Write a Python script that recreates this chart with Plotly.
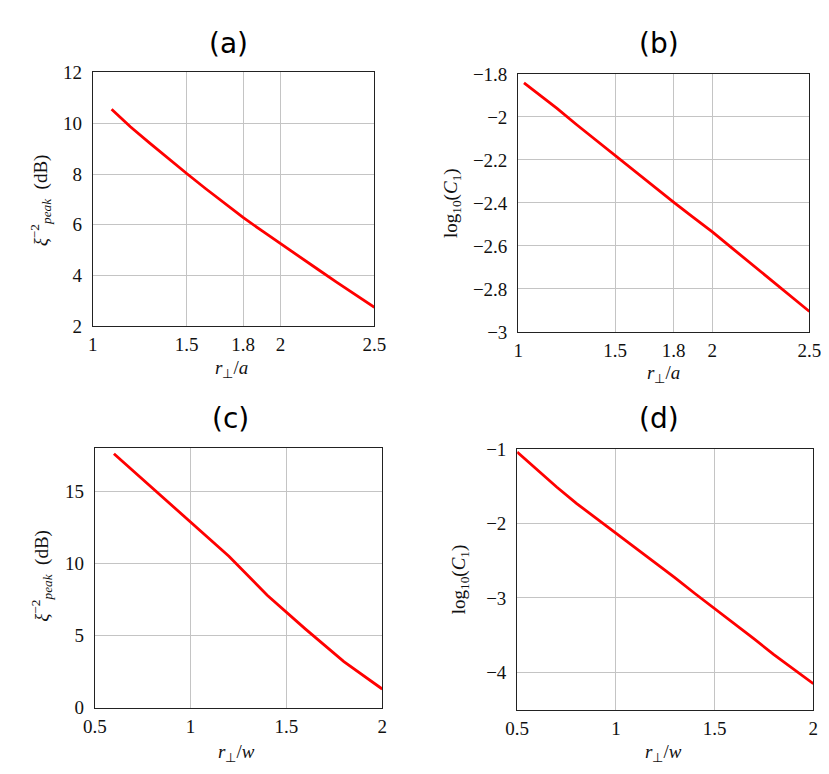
import plotly.graph_objects as go

# ---------------- data ----------------
a_x = [1.1, 1.2, 1.3, 1.4, 1.5, 1.6, 1.7, 1.8, 1.9, 2.0, 2.1, 2.2, 2.3, 2.4, 2.5]
a_y = [10.55, 9.86, 9.24, 8.62, 8.02, 7.43, 6.85, 6.29, 5.77, 5.27, 4.75, 4.24, 3.73, 3.23, 2.75]

b_x = [1.03, 1.1, 1.2, 1.3, 1.4, 1.5, 1.6, 1.7, 1.8, 1.9, 2.0, 2.1, 2.2, 2.3, 2.4, 2.5]
b_y = [-1.842, -1.890, -1.960, -2.035, -2.108, -2.181, -2.253, -2.325, -2.396,
       -2.466, -2.535, -2.609, -2.683, -2.757, -2.831, -2.905]

c_x = [0.6, 0.8, 1.0, 1.2, 1.4, 1.6, 1.8, 2.0]
c_y = [17.6, 15.25, 12.9, 10.5, 7.8, 5.45, 3.2, 1.3]

d_x = [0.5, 0.6, 0.7, 0.8, 0.9, 1.0, 1.1, 1.2, 1.3, 1.4, 1.5, 1.6, 1.7, 1.8, 1.9, 2.0]
d_y = [-1.04, -1.28, -1.51, -1.73, -1.93, -2.12, -2.33, -2.53, -2.73, -2.94, -3.14,
       -3.35, -3.55, -3.76, -3.96, -4.15]

ab_xticks = [1, 1.5, 1.8, 2, 2.5]
ab_xticktext = ["1", "1.5", "1.8", "2", "2.5"]
a_yticks = [2, 4, 6, 8, 10, 12]
a_yticktext = ["2", "4", "6", "8", "10", "12"]
b_yticks = [-3, -2.8, -2.6, -2.4, -2.2, -2, -1.8]
b_yticktext = ["\u22123", "\u22122.8", "\u22122.6", "\u22122.4", "\u22122.2", "\u22122", "\u22121.8"]
cd_xticks = [0.5, 1, 1.5, 2]
cd_xticktext = ["0.5", "1", "1.5", "2"]
c_yticks = [0, 5, 10, 15]
c_yticktext = ["0", "5", "10", "15"]
d_yticks = [-4, -3, -2, -1]
d_yticktext = ["\u22124", "\u22123", "\u22122", "\u22121"]

titles = ["(a)", "(b)", "(c)", "(d)"]
xlabel_a = "<i>r</i><sub>\u22a5</sub>/<i>a</i>"
xlabel_w = "<i>r</i><sub>\u22a5</sub>/<i>w</i>"
ylabel_xi = "<i>\u03be</i><sup>\u22122</sup><sub><i>peak</i></sub>  (dB)"
ylabel_log = "log<sub>10</sub>(<i>C</i><sub>1</sub>)"

# ---------------- layout helpers ----------------
W, H = 829, 774
SERIF = "Liberation Serif"
SANS = "DejaVu Sans"


def dx(x0, x1):
    return [x0 / W, x1 / W]


def dy(y0, y1):
    return [1 - y1 / H, 1 - y0 / H]


panels = [
    dict(x=a_x, y=a_y, xr=[1, 2.5], yr=[2, 12], xt=ab_xticks, xtt=ab_xticktext,
         yt=a_yticks, ytt=a_yticktext, box=(75, 365, 56, 317), xl=xlabel_a, yl=ylabel_xi,
         title=titles[0], tpos=(215, 26), xlpos=(218, 361), ylpos=(22, 187)),
    dict(x=b_x, y=b_y, xr=[1, 2.5], yr=[-3, -1.8], xt=ab_xticks, xtt=ab_xticktext,
         yt=b_yticks, ytt=b_yticktext, box=(513, 813, 57.5, 322.7), xl=xlabel_a, yl=ylabel_log,
         title=titles[1], tpos=(658, 26), xlpos=(663, 366), ylpos=(445, 190)),
    dict(x=c_x, y=c_y, xr=[0.5, 2], yr=[0, 18], xt=cd_xticks, xtt=cd_xticktext,
         yt=c_yticks, ytt=c_yticktext, box=(77, 373, 442, 709), xl=xlabel_w, yl=ylabel_xi,
         title=titles[2], tpos=(217, 412), xlpos=(223, 756), ylpos=(22, 573)),
    dict(x=d_x, y=d_y, xr=[0.5, 2], yr=[-4.5, -1], xt=cd_xticks, xtt=cd_xticktext,
         yt=d_yticks, ytt=d_yticktext, box=(512, 817, 443, 711), xl=xlabel_w, yl=ylabel_log,
         title=titles[3], tpos=(658, 412), xlpos=(663, 756), ylpos=(453, 577)),
]

fig = go.Figure()
annotations = []
axis_common = dict(showline=True, linecolor="#222222", linewidth=1, mirror=True,
                   showgrid=True, gridcolor="#c4c4c4", gridwidth=1, zeroline=False,
                   ticks="", tickfont=dict(family=SERIF, size=19, color="#111111"),
                   fixedrange=True)

for i, p in enumerate(panels):
    n = "" if i == 0 else str(i + 1)
    fig.add_trace(go.Scatter(x=p["x"], y=p["y"], mode="lines",
                             line=dict(color="#ff0000", width=2.8),
                             xaxis="x" + n, yaxis="y" + n, showlegend=False,
                             hoverinfo="skip"))
    x0, x1, y0, y1 = p["box"]
    fig.layout["xaxis" + n] = dict(axis_common, domain=dx(x0, x1), range=p["xr"],
                                   tickmode="array", tickvals=p["xt"], ticktext=p["xtt"],
                                   anchor="y" + n, ticklabelstandoff=1)
    fig.layout["yaxis" + n] = dict(axis_common, domain=dy(y0, y1), range=p["yr"],
                                   tickmode="array", tickvals=p["yt"], ticktext=p["ytt"],
                                   anchor="x" + n, ticklabelstandoff=6)
    tx, ty = p["tpos"]
    annotations.append(dict(text=p["title"], x=tx / W, y=1 - ty / H, xref="paper", yref="paper",
                            showarrow=False, xanchor="center", yanchor="middle",
                            font=dict(family=SANS, size=28, color="#000000")))
    lx, ly = p["xlpos"]
    annotations.append(dict(text=p["xl"], x=lx / W, y=1 - ly / H, xref="paper", yref="paper",
                            showarrow=False, xanchor="center", yanchor="middle",
                            font=dict(family=SERIF, size=19, color="#111111")))
    yx, yy = p["ylpos"]
    annotations.append(dict(text=p["yl"], x=yx / W, y=1 - yy / H, xref="paper", yref="paper",
                            showarrow=False, xanchor="center", yanchor="middle", textangle=-90,
                            font=dict(family=SERIF, size=19, color="#111111")))

fig.update_layout(width=W, height=H, margin=dict(l=0, r=0, t=0, b=0),
                  paper_bgcolor="white", plot_bgcolor="white",
                  annotations=annotations, showlegend=False)

fig.write_html("out.html", config={"displayModeBar": False})
